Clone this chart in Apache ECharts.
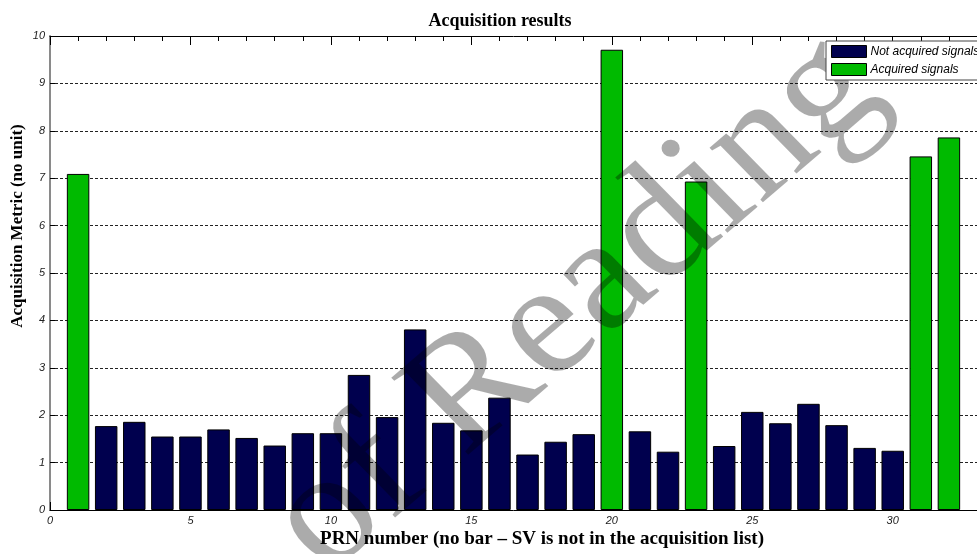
<!DOCTYPE html>
<html>
<head>
<meta charset="utf-8">
<script src="https://cdn.jsdelivr.net/npm/echarts@6/dist/echarts.min.js"></script>
<style>
  html, body { margin: 0; padding: 0; background: #fff; }
  #chart { width: 977px; height: 554px; }
</style>
</head>
<body>
<div id="chart"></div>
<script>
// PRN numbers of the satellites in the acquisition list
const prnNumbers = [1, 2, 3, 4, 5, 6, 7, 8, 9, 10, 11, 12, 13, 14, 15, 16,
                    17, 18, 19, 20, 21, 22, 23, 24, 25, 26, 27, 28, 29, 30, 31, 32];
// Acquisition metric per PRN (peak ratio, no unit)
const acquisitionMetric = [7.09, 1.77, 1.86, 1.55, 1.55, 1.70, 1.52, 1.36, 1.62, 1.62,
                           2.85, 1.96, 3.81, 1.84, 1.68, 2.37, 1.17, 1.44, 1.60, 9.71,
                           1.66, 1.23, 6.93, 1.35, 2.07, 1.83, 2.24, 1.79, 1.31, 1.25,
                           7.46, 7.86];
// PRNs whose metric passed the detection threshold
const acquiredPrns = [1, 20, 23, 31, 32];
const yTicks = [0, 1, 2, 3, 4, 5, 6, 7, 8, 9, 10];
const xTicks = [0, 5, 10, 15, 20, 25, 30];

const notAcquiredData = [];
const acquiredData = [];
prnNumbers.forEach((prn, i) => {
  if (acquiredPrns.includes(prn)) acquiredData.push([prn, acquisitionMetric[i]]);
  else notAcquiredData.push([prn, acquisitionMetric[i]]);
});

const NAVY = '#00004e';
const GREEN = '#00ba00';
const tickFont = { fontFamily: 'Liberation Sans', fontStyle: 'italic', fontSize: 11, color: '#222' };

const chart = echarts.init(document.getElementById('chart'), null, { renderer: 'canvas' });

chart.setOption({
  backgroundColor: '#ffffff',
  animation: false,
  title: {
    text: 'Acquisition results',
    left: 495,
    top: 7,
    textAlign: 'center',
    textStyle: { fontFamily: 'Liberation Serif', fontWeight: 'bold', fontSize: 18, color: '#000' }
  },
  legend: {
    orient: 'vertical',
    left: 826,
    top: 41,
    z: 10,
    padding: [4, 20, 4, 5],
    itemGap: 5,
    itemWidth: 35,
    itemHeight: 12,
    backgroundColor: '#fff',
    borderColor: '#444',
    borderWidth: 1,
    icon: 'rect',
    itemStyle: { borderColor: '#000', borderWidth: 1 },
    textStyle: { fontFamily: 'Liberation Sans', fontStyle: 'italic', fontSize: 12, color: '#000', lineHeight: 12, padding: [0, 0, 0, -1] },
    data: ['Not acquired signals', 'Acquired signals']
  },
  grid: { left: 50, right: -5, top: 36, bottom: 44 },
  xAxis: [
    {
      type: 'value', min: 0, max: 33, interval: 5, position: 'bottom',
      axisLine: { show: true, lineStyle: { color: '#000', width: 1 } },
      axisTick: { show: true, inside: true, length: 8, lineStyle: { color: '#000' } },
      minorTick: { show: true, splitNumber: 5, length: 5, lineStyle: { color: '#000' } },
      axisLabel: Object.assign({ margin: 5, customValues: xTicks }, tickFont),
      splitLine: { show: false }
    },
    {
      type: 'value', min: 0, max: 33, interval: 5, position: 'top',
      axisLine: { show: true, lineStyle: { color: '#000', width: 1 } },
      axisTick: { show: true, inside: true, length: 9, lineStyle: { color: '#000' } },
      minorTick: { show: true, splitNumber: 5, length: 5, lineStyle: { color: '#000' } },
      axisLabel: { show: false },
      splitLine: { show: false }
    }
  ],
  yAxis: {
    type: 'value', min: 0, max: 10, interval: 1,
    axisLine: { show: true, lineStyle: { color: '#8a8a8a', width: 2 } },
    axisTick: { show: true, inside: true, length: 5, lineStyle: { color: '#000' } },
    axisLabel: Object.assign({ margin: 5, customValues: yTicks }, tickFont),
    splitLine: { show: true, lineStyle: { color: '#222', width: 1, type: [3, 2] } }
  },
  series: [
    {
      name: 'Not acquired signals',
      type: 'bar',
      xAxisIndex: 0,
      data: notAcquiredData,
      barWidth: '80%',
      barGap: '-100%',
      itemStyle: { color: NAVY, borderColor: '#000', borderWidth: 1 },
      z: 2
    },
    {
      name: 'Acquired signals',
      type: 'bar',
      xAxisIndex: 0,
      data: acquiredData,
      barWidth: '80%',
      barGap: '-100%',
      itemStyle: { color: GREEN, borderColor: '#000', borderWidth: 1 },
      z: 2
    }
  ],
  graphic: [
    {
      type: 'text',
      x: 542, y: 539,
      z: 1,
      style: {
        text: 'PRN number (no bar \u2013 SV is not in the acquisition list)',
        font: 'bold 19px "Liberation Serif"',
        fill: '#000',
        textAlign: 'center',
        textVerticalAlign: 'middle'
      }
    },
    {
      type: 'text',
      x: 18, y: 226,
      rotation: Math.PI / 2,
      z: 1,
      style: {
        text: 'Acquisition Metric (no unit)',
        font: 'bold 17px "Liberation Serif"',
        fill: '#000',
        textAlign: 'center',
        textVerticalAlign: 'middle'
      }
    },
    {
      // diagonal watermark (slightly widened), over the bars but under the legend
      type: 'group',
      x: 576, y: 305,
      scaleX: 1.07,
      z: 5,
      silent: true,
      children: [
        {
          type: 'text',
          rotation: 42.5 * Math.PI / 180,
          z: 5,
          style: {
            text: 'of Reading',
            font: '161px "Liberation Serif"',
            fill: 'rgba(0,0,0,0.33)',
            textAlign: 'center',
            textVerticalAlign: 'middle'
          }
        }
      ]
    }
  ]
});
</script>
</body>
</html>
